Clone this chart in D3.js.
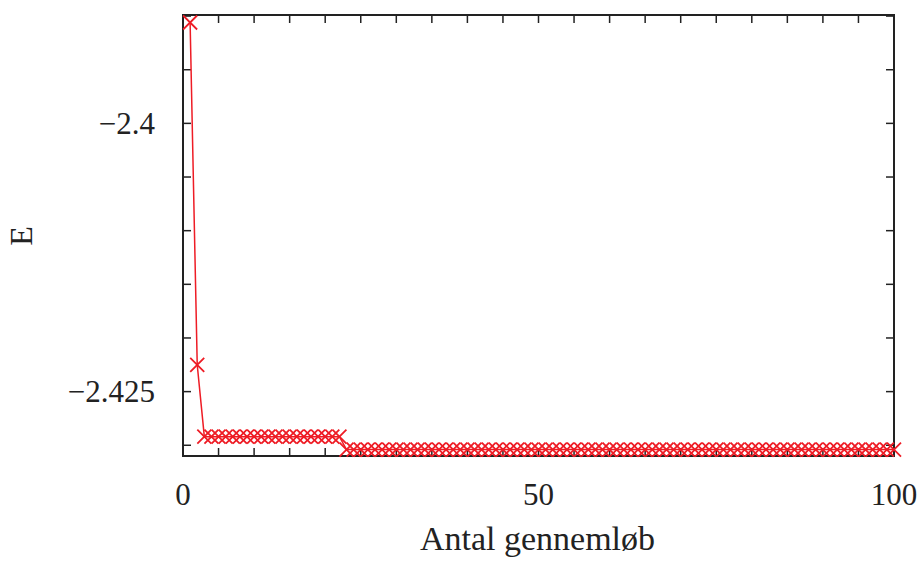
<!DOCTYPE html>
<html>
<head>
<meta charset="utf-8">
<script src="https://cdn.jsdelivr.net/npm/d3@7"></script>
<style>
  body { margin: 0; background: #fff; }
  text { font-family: "Liberation Serif", "DejaVu Serif", serif; fill: #222; }
</style>
</head>
<body>
<svg id="chart" width="922" height="562"></svg>
<script>
// Iteration number and energy values
const iterations = d3.range(1, 101);
const firstValues = [-2.3906, -2.4225];
const plateau1 = -2.4292;   // iterations 3..22
const plateau2 = -2.4304;   // iterations 23..100
const energy = iterations.map(i => i <= 2 ? firstValues[i - 1] : (i <= 22 ? plateau1 : plateau2));

const xTicks = [0, 50, 100];
const yTicks = [-2.4, -2.425];
const xLabel = "Antal gennemløb";
const yLabel = "E";

const svg = d3.select("#chart");
const margin = { top: 15, right: 28, bottom: 106, left: 183 };
const width = 922 - margin.left - margin.right;
const height = 562 - margin.top - margin.bottom;

const x = d3.scaleLinear().domain([0, 100]).range([0, width]);
const y = d3.scaleLinear().domain([-2.431, -2.3899]).range([height, 0]);

const g = svg.append("g").attr("transform", `translate(${margin.left},${margin.top})`);

const tickLen = 8;
const xMinor = d3.range(0, 101, 5);
const yMinor = d3.range(-2.43, -2.389, 0.005);

// minor/mirror ticks on all four sides
g.selectAll(".xt-b").data(xMinor).enter().append("line")
  .attr("x1", d => x(d)).attr("x2", d => x(d))
  .attr("y1", height).attr("y2", height - tickLen)
  .attr("stroke", "#222").attr("stroke-width", 1.5);
g.selectAll(".xt-t").data(xMinor).enter().append("line")
  .attr("x1", d => x(d)).attr("x2", d => x(d))
  .attr("y1", 0).attr("y2", tickLen)
  .attr("stroke", "#222").attr("stroke-width", 1.5);
g.selectAll(".yt-l").data(yMinor).enter().append("line")
  .attr("x1", 0).attr("x2", tickLen)
  .attr("y1", d => y(d)).attr("y2", d => y(d))
  .attr("stroke", "#222").attr("stroke-width", 1.5);
g.selectAll(".yt-r").data(yMinor).enter().append("line")
  .attr("x1", width).attr("x2", width - tickLen)
  .attr("y1", d => y(d)).attr("y2", d => y(d))
  .attr("stroke", "#222").attr("stroke-width", 1.5);

// frame
g.append("rect")
  .attr("width", width).attr("height", height)
  .attr("fill", "none").attr("stroke", "#222").attr("stroke-width", 2);

// tick labels
g.selectAll(".xl").data(xTicks).enter().append("text")
  .attr("x", d => x(d)).attr("y", height + 49)
  .attr("text-anchor", "middle").attr("font-size", 31)
  .text(d => d);
g.selectAll(".yl").data(yTicks).enter().append("text")
  .attr("x", -28).attr("y", d => y(d)).attr("dy", "0.33em")
  .attr("text-anchor", "end").attr("font-size", 31)
  .text(d => "\u2212" + Math.abs(d));

// axis titles
g.append("text")
  .attr("x", width / 2 - 1).attr("y", height + 94)
  .attr("text-anchor", "middle").attr("font-size", 34)
  .text(xLabel);
g.append("text")
  .attr("transform", `translate(${-151},${y(-2.4105)}) rotate(-90)`)
  .attr("text-anchor", "middle").attr("font-size", 32)
  .text(yLabel);

// data line and markers
const data = iterations.map((it, i) => ({ it, e: energy[i] }));
const red = "#ee1c25";

g.append("path")
  .datum(data)
  .attr("fill", "none").attr("stroke", red).attr("stroke-width", 1.5)
  .attr("d", d3.line().x(d => x(d.it)).y(d => y(d.e)));

const m = 7;
g.selectAll(".pt").data(data).enter().append("path")
  .attr("transform", d => `translate(${x(d.it)},${y(d.e)})`)
  .attr("d", `M${-m},${-m}L${m},${m}M${-m},${m}L${m},${-m}`)
  .attr("stroke", red).attr("stroke-width", 1.8).attr("fill", "none");
</script>
</body>
</html>
